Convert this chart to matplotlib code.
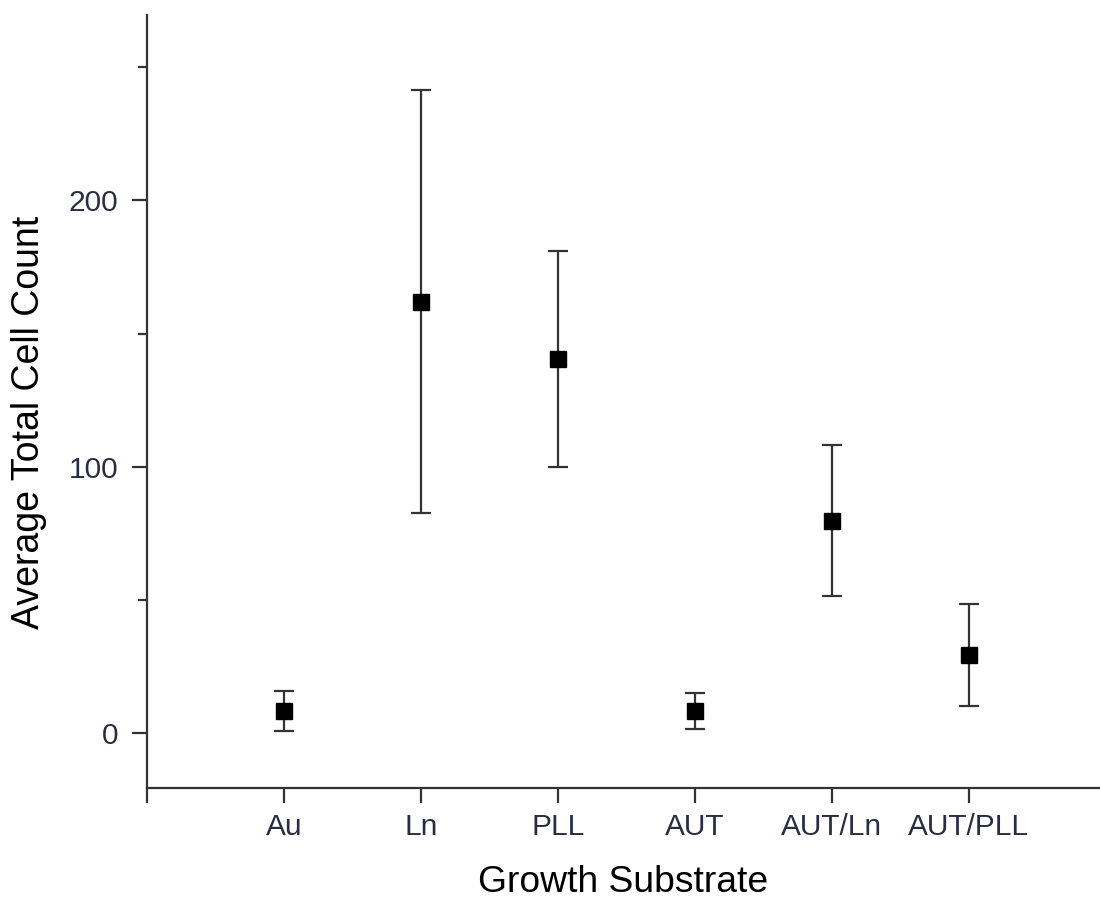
import matplotlib
matplotlib.use("Agg")
import matplotlib.pyplot as plt
from matplotlib.ticker import MultipleLocator

categories = ["Au", "Ln", "PLL", "AUT", "AUT/Ln", "AUT/PLL"]
means = [8.4, 162.0, 140.4, 8.5, 79.8, 29.4]
errors = [7.5, 79.2, 40.4, 6.7, 28.4, 19.2]

plt.rcParams['font.family'] = ['Liberation Sans', 'DejaVu Sans']

fig = plt.figure(figsize=(11, 8.98), dpi=100)
ax = fig.add_axes([147/1100, (898-787.5)/898, 1 - 147/1100, (787.5-15)/898])

x = list(range(1, len(categories) + 1))
ax.errorbar(x, means, yerr=errors, fmt='s', color='black', ms=11.5,
            ecolor='#333333', elinewidth=1.6, capsize=7, capthick=1.6, zorder=3)

ax.set_xlim(0, 6.96)
ax.set_ylim(-20.3, 269.5)

ax.set_xticks([0] + x)
ax.set_xticklabels([""] + categories)
ax.yaxis.set_major_locator(MultipleLocator(100))
ax.yaxis.set_minor_locator(MultipleLocator(50))

for s in ['top', 'right']:
    ax.spines[s].set_visible(False)
for s in ['left', 'bottom']:
    ax.spines[s].set_linewidth(1.6)
    ax.spines[s].set_color('#333333')

label_color = '#2b2b48'
ax.tick_params(axis='both', which='major', direction='out', length=10.5, width=1.6,
               color='#333333', labelsize=21.5, labelcolor=label_color)
ax.tick_params(axis='y', which='major', pad=10)
ax.tick_params(axis='x', which='major', pad=8)
ax.tick_params(axis='y', which='minor', direction='out', length=6.5, width=1.6,
               color='#333333')

ax.set_xlabel("Growth Substrate", fontsize=26.8, color='black', labelpad=17)
ax.set_ylabel("Average Total Cell Count", fontsize=27, color='black', labelpad=16)
ax.yaxis.label.set_y(0.4725)

fig.savefig("out.png", dpi=100)
